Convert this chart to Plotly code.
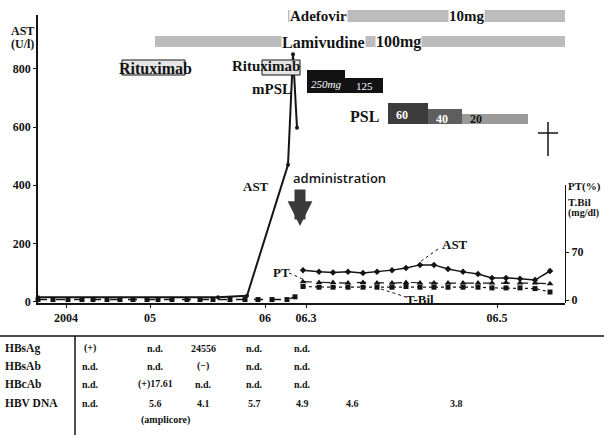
import plotly.graph_objects as go

# ---------------- data ----------------
# time positions along the (non-linear) time axis
tick_pos = [28, 112, 227, 268, 459]
tick_text = ["2004", "05", "06", "06.3", "06.5"]

ast_pre_t = [0, 180, 209, 250, 255, 259]
ast_pre = [15, 15, 20, 470, 850, 597]

tbil_pre_t = [0, 15, 30, 44, 55, 69, 82, 95, 109, 120, 134, 149, 162, 175, 192, 207, 220, 234, 249, 257]
tbil_pre = [1, 1, 1, 1, 1, 1, 1, 1, 1, 1, 1, 1, 1, 1, 1, 1, 1, 1, 1, 5]

post_t = [265, 281, 295, 310, 325, 339, 354, 368, 382, 396, 410, 425, 440, 454, 468, 482, 497, 512]
ast_post = [108, 102, 100, 102, 98, 102, 108, 115, 126, 126, 112, 102, 95, 81, 81, 78, 74, 105]
pt_post = [27, 26, 26, 25, 26, 25, 25, 26, 25, 25, 25, 25, 25, 25, 26, 25, 25, 24]
tbil_post = [20, 19, 19, 19, 19, 19, 19, 20, 19, 19, 19, 19, 19, 18, 18, 18, 17, 12]

adefovir_span = [250, 527]
adefovir_dose = "10mg"
lamivudine_span = [117, 527]
lamivudine_dose = "100mg"
rituximab_start = [84, 224]
rituximab_end = [147, 262]
mpsl_edges = [269, 307, 345]
mpsl_doses = ["250mg", "125"]
psl_edges = [350, 390, 424, 490]
psl_doses = ["60", "40", "20"]
admission_t = 262
death_t = 510

row_labels = ["HBsAg", "HBsAb", "HBcAb", "HBV DNA"]
test_t = [52, 117, 165, 216, 264, 314, 418]
hbsag = ["(+)", "n.d.", "24556", "n.d.", "n.d.", "", ""]
hbsab = ["n.d.", "n.d.", "(\u2212)", "n.d.", "n.d.", "", ""]
hbcab = ["n.d.", "(+)17.61", "n.d.", "n.d.", "n.d.", "", ""]
hbvdna = ["n.d.", "5.6", "4.1", "5.7", "4.9", "4.6", "3.8"]

# ---------------- figure ----------------
SERIF = "Liberation Serif"
INK = "#141414"
XSPAN = 527.0


def py(ypx):
    """pixel row -> paper y"""
    return (303 - ypx) / 288.0


def px(t):
    """time position -> paper x"""
    return t / XSPAN


fig = go.Figure()

fig.add_trace(go.Scatter(x=ast_pre_t, y=ast_pre, mode="lines+markers",
                         line=dict(color=INK, width=2), marker=dict(size=4, color=INK),
                         showlegend=False, cliponaxis=False))
fig.add_trace(go.Scatter(x=tbil_pre_t, y=tbil_pre, yaxis="y2", mode="lines+markers",
                         line=dict(color=INK, width=1.5, dash="dash"),
                         marker=dict(size=5, symbol="square", color=INK),
                         showlegend=False, cliponaxis=False))
fig.add_trace(go.Scatter(x=post_t, y=ast_post, mode="lines+markers",
                         line=dict(color=INK, width=1.5), marker=dict(size=5, symbol="diamond", color=INK),
                         showlegend=False))
fig.add_trace(go.Scatter(x=post_t, y=pt_post, yaxis="y2", mode="lines+markers",
                         line=dict(color=INK, width=1.2, dash="dash"),
                         marker=dict(size=6, symbol="triangle-up", color=INK),
                         showlegend=False))
fig.add_trace(go.Scatter(x=post_t, y=tbil_post, yaxis="y2", mode="lines+markers",
                         line=dict(color=INK, width=1.2, dash="dot"),
                         marker=dict(size=5, symbol="square", color=INK),
                         showlegend=False))

shapes = []
ann = []


def bar(x0, x1, y0px, y1px, fill, line=None):
    shapes.append(dict(type="rect", xref="x", yref="paper", x0=x0, x1=x1,
                       y0=py(y1px), y1=py(y0px), fillcolor=fill,
                       line=dict(width=1 if line else 0, color=line or fill), layer="above"))


def seg(t0, t1, y0px, y1px, width=1, dash="dot"):
    shapes.append(dict(type="line", xref="paper", yref="paper", x0=px(t0), x1=px(t1),
                       y0=py(y0px), y1=py(y1px), line=dict(color=INK, width=width, dash=dash)))


def text(t, ypx, s, size=14, color=INK, family=SERIF, weight="bold", xanchor="center", bg=None, italic=False):
    ann.append(dict(x=px(t), y=py(ypx), xref="paper", yref="paper", text=s, showarrow=False,
                    xanchor=xanchor, yanchor="middle",
                    font=dict(family=family, size=size, color=color, weight=weight,
                              style="italic" if italic else "normal"),
                    bgcolor=bg, borderpad=0))


# treatment bars
bar(adefovir_span[0], adefovir_span[1], 10, 22, "#bcbcbc")
text(adefovir_span[0] + 30, 16, "Adefovir", size=15, bg="white")
text(adefovir_span[0] + 178, 16, adefovir_dose, size=15, bg="white")

bar(lamivudine_span[0], lamivudine_span[1], 36, 47, "#bcbcbc")
text(lamivudine_span[0] + 168, 42, "Lamivudine", size=16, bg="white")
text(lamivudine_span[0] + 243, 42, lamivudine_dose, size=16, bg="white")

for s, e in zip(rituximab_start, rituximab_end):
    bar(s, e, 60, 75, "#e6e6e6", line=INK)
text((rituximab_start[0] + rituximab_end[0]) / 2 + 2, 68, "Rituximab", size=16)
text(rituximab_end[1] + 1, 66, "Rituximab", size=15, xanchor="right")

for i, d in enumerate(mpsl_doses):
    top = 70 if i == 0 else 78
    bar(mpsl_edges[i], mpsl_edges[i + 1], top, 93, "#121212")
    text((mpsl_edges[i] + mpsl_edges[i + 1]) / 2, 84 if i == 0 else 86, d, size=11,
         color="white", weight="normal", italic=(i == 0))
text(mpsl_edges[0] - 14, 89, "mPSL", size=15, xanchor="right")

psl_fill = ["#3c3c3c", "#5e5e5e", "#9a9a9a"]
psl_top = [103, 109, 114]
for i, d in enumerate(psl_doses):
    bar(psl_edges[i], psl_edges[i + 1], psl_top[i], 124, psl_fill[i])
    text(psl_edges[i] + 14, 115 if i == 0 else 119, d, size=12,
         color="white" if i < 2 else INK, weight="bold")
text(psl_edges[0] - 8, 117, "PSL", size=16, xanchor="right")

# death cross
seg(death_t, death_t, 156, 122, width=1.5, dash="solid")
seg(death_t - 10, death_t + 10, 133, 133, width=1.5, dash="solid")

# admission arrow
text(admission_t - 8, 178, "administration", size=13, family="Open Sans", weight=600, xanchor="left")
ann.append(dict(x=px(admission_t), y=py(226), xref="paper", yref="paper", ax=0, ay=-38,
                showarrow=True, arrowhead=2, arrowsize=0.45, arrowwidth=11,
                arrowcolor="#3a3a3a", text=""))

# series labels
text(218, 186, "AST", size=13)
text(417, 244, "AST", size=13)
seg(400, 382, 249, 262)
text(243, 272, "PT", size=13)
seg(251, 267, 273, 280)
text(382, 299, "T-Bil", size=13)
seg(343, 368, 289, 297)

# axis titles
text(-16, 31, "AST", size=12)
text(-16, 44, "(U/l)", size=12)
text(529, 186, "PT(%)", size=11, xanchor="left")
text(529, 202, "T.Bil", size=11, xanchor="left")
text(529, 213, "(mg/dl)", size=10, xanchor="left")

# table
seg(-38, 566, 336, 336, width=1.5, dash="solid")
seg(37, 37, 336, 435, width=1.5, dash="solid")
row_y = [348, 366, 384, 403]
for lab, ry, vals in zip(row_labels, row_y, [hbsag, hbsab, hbcab, hbvdna]):
    text(-34, ry, lab, size=11.5, xanchor="left")
    for t, v in zip(test_t, vals):
        if v:
            text(t, ry, v, size=10)
text(test_t[1] + 10, 420, "(amplicore)", size=10)

fig.update_layout(
    width=604, height=435,
    margin=dict(l=38, r=39, t=15, b=132),
    plot_bgcolor="rgba(0,0,0,0)", paper_bgcolor="white",
    shapes=shapes, annotations=ann, showlegend=False,
    xaxis=dict(range=[0, XSPAN], showline=True, linecolor=INK, linewidth=1.5,
               ticks="outside", ticklen=3, tickcolor=INK, tickvals=tick_pos, ticktext=tick_text,
               tickfont=dict(family=SERIF, size=12, color=INK, weight="bold"),
               showgrid=False, zeroline=False),
    yaxis=dict(range=[-5, 985], showline=True, linecolor=INK, linewidth=1.5,
               ticks="outside", ticklen=3, tickcolor=INK, tickvals=[0, 200, 400, 600, 800],
               tickfont=dict(family=SERIF, size=12, color=INK, weight="bold"),
               showgrid=False, zeroline=False),
    yaxis2=dict(domain=[0, 0.41], anchor="x", side="right", range=[-4, 168],
                showline=True, linecolor=INK, linewidth=1.2, ticks="outside", ticklen=3,
                tickcolor=INK, tickvals=[0, 70],
                tickfont=dict(family=SERIF, size=12, color=INK, weight="bold"),
                showgrid=False, zeroline=False),
)

fig.write_html("out.html")
